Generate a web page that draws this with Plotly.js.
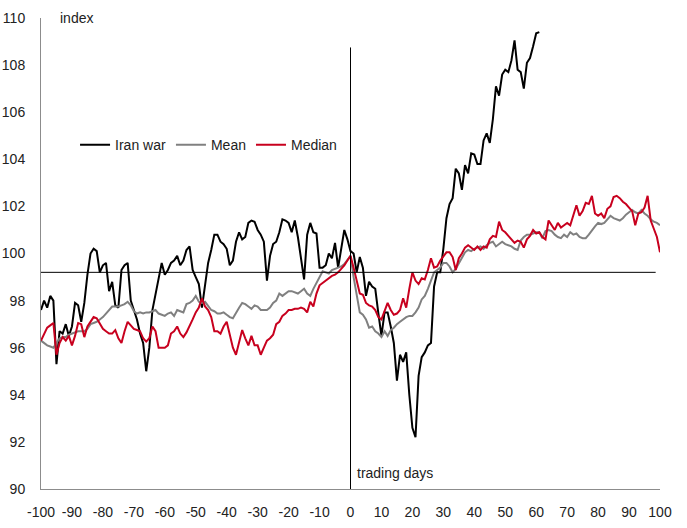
<!DOCTYPE html>
<html>
<head>
<meta charset="utf-8">
<script src="https://cdn.plot.ly/plotly-3.0.1.min.js"></script>
<style>
  html, body { margin: 0; padding: 0; background: #fff; }
  #myDiv { width: 687px; height: 528px; }
</style>
</head>
<body>
<div id="myDiv"></div>
<script>
// trading days relative to the event, -100 .. 100
var days = [];
for (var d = -100; d <= 100; d++) days.push(d);

// Iran war path, days -100 .. 61
var iranWar = [
  97.6, 98.0, 97.7, 98.2, 98.0, 95.3, 96.7, 96.6, 97.0, 96.5,
  96.9, 97.9, 97.8, 97.1, 97.9, 99.1, 100.0, 100.2, 100.1, 99.2,
  99.5, 99.6, 98.4, 98.8, 97.8, 97.7, 99.3, 99.5, 99.6, 98.0,
  97.6, 97.2, 96.6, 96.2, 95.0, 96.0, 97.6, 98.3, 99.0, 99.6,
  99.1, 99.3, 99.6, 99.7, 99.9, 99.5, 99.7, 100.15, 100.3, 99.3,
  99.0, 98.7, 97.7, 98.7, 99.6, 100.15, 100.8, 100.8, 100.5, 100.4,
  100.2, 99.5, 99.7, 100.5, 100.9, 100.6, 100.7, 101.3, 101.4, 101.35,
  101.0, 100.8, 100.5, 98.85, 99.9, 100.4, 100.5, 100.9, 101.45, 101.4,
  101.3, 100.9, 101.4, 100.7, 99.9, 98.9, 100.8, 101.3, 100.9, 100.85,
  99.4, 99.4, 99.5, 100.0, 99.8, 100.45, 99.4, 100.2, 101.0, 100.6,
  100.1, 100.0, 99.2, 99.85, 99.4, 98.2, 98.8, 98.6, 98.5, 97.46,
  96.5, 97.5, 97.5, 96.9, 96.2, 94.6, 95.7, 95.4, 95.8, 94.0,
  92.6, 92.2, 94.8, 95.6, 95.8, 96.1, 96.2, 98.6, 99.2, 99.2,
  100.2, 101.5, 102.1, 102.35, 103.6, 103.4, 102.7, 103.75, 103.4, 104.25,
  104.2, 103.8, 103.8, 104.8, 105.1, 104.7, 105.7, 107.1, 106.7, 107.6,
  107.8, 107.7, 108.2, 109.05, 107.8, 107.7, 107.0, 108.1, 108.3, 108.8,
  109.35, 109.4
];

var meanPath = [
  96.3, 96.2, 96.1, 96.05, 96.0, 96.2, 96.4, 96.45, 96.45, 96.55,
  96.6, 96.65, 96.7, 96.7, 96.7, 96.8, 97.0, 97.05, 97.1, 97.2,
  97.3, 97.45, 97.6, 97.75, 97.75, 97.75, 97.8, 97.85, 97.95, 97.8,
  97.55, 97.45, 97.5, 97.45, 97.5, 97.5, 97.55, 97.6, 97.45, 97.4,
  97.35, 97.45, 97.5, 97.35, 97.6, 97.55, 97.5, 97.85, 97.9, 98.0,
  98.2, 97.95, 97.9, 97.95, 97.75, 97.6, 97.55, 97.45, 97.45, 97.5,
  97.4, 97.3, 97.25, 97.5, 97.7, 97.9, 97.85, 97.75, 97.65, 97.8,
  97.75, 97.6, 97.6, 97.6, 97.7, 97.9, 98.0, 98.3, 98.2, 98.3,
  98.4, 98.4, 98.35, 98.3, 98.4, 98.5, 98.3, 98.2, 98.5, 98.75,
  98.95, 99.25, 99.2, 99.15, 99.3, 99.35, 99.4, 99.45, 99.55, 99.75,
  99.9, 99.0, 98.2, 97.5, 97.4, 97.2, 96.85, 96.9, 96.7, 96.6,
  96.45, 96.7, 96.5, 96.75, 96.85, 97.0, 97.1, 97.2, 97.3, 97.35,
  97.35, 97.5, 97.7, 98.05, 98.2, 98.5, 98.85, 99.2, 99.3, 99.4,
  99.6, 99.6, 99.45, 99.2, 99.35, 99.6, 99.85, 100.05, 100.15, 100.1,
  100.2, 100.25, 100.3, 100.2, 100.35, 100.45, 100.5, 100.3, 100.4, 100.5,
  100.4, 100.35, 100.3, 100.2, 100.15, 100.55, 100.7, 100.8, 100.8, 100.85,
  100.9, 100.9, 100.65, 100.95, 101.0, 100.95, 100.8, 100.7, 100.65, 100.8,
  100.7, 100.9, 100.8, 100.85, 100.7, 100.65, 100.65, 100.8, 101.0, 101.15,
  101.3, 101.25, 101.3, 101.45, 101.6, 101.5, 101.45, 101.4, 101.5, 101.65,
  101.75, 101.85, 101.75, 101.7, 101.85, 101.7, 101.6, 101.45, 101.35, 101.3,
  101.2
];

var medianPath = [
  96.3, 96.6, 96.85, 96.95, 97.05, 95.7, 96.2, 96.45, 96.3, 96.5,
  96.1, 96.5, 97.05, 97.0, 96.45, 96.9, 97.1, 97.3, 97.25, 97.0,
  96.8, 96.7, 96.6, 96.6, 96.75, 96.4, 96.2, 96.7, 97.1, 96.95,
  96.8, 96.75, 96.7, 96.4, 96.26, 96.4, 96.9, 96.7, 96.0, 96.0,
  96.0, 96.1, 96.6, 96.7, 96.9, 96.6, 96.45, 96.65, 96.9, 97.2,
  97.5, 97.7, 98.1, 97.75, 97.6, 97.3, 96.7, 96.7, 96.6, 96.9,
  97.1, 96.5, 96.0, 95.7, 96.2, 96.75, 96.4, 96.1, 96.5, 96.1,
  96.1, 95.7, 96.0, 96.3, 96.4, 96.55, 97.0, 97.1, 97.35, 97.45,
  97.6, 97.6, 97.65, 97.65, 97.7, 97.65, 97.5, 97.95, 97.75, 98.3,
  98.65, 98.75, 98.85, 98.95, 99.05, 99.1, 99.2, 99.35, 99.5, 99.7,
  99.9, 99.4, 98.9, 98.3, 98.25, 97.9, 97.8, 97.75, 97.6, 97.3,
  97.2, 97.6, 97.9, 97.6, 97.4, 97.45, 97.6, 98.1, 97.7, 98.5,
  99.2, 98.85, 98.7, 98.95, 98.9, 99.3, 99.8, 99.4, 99.45, 99.7,
  99.9, 100.05, 100.05, 99.85, 99.3, 99.8, 100.0, 100.25, 100.35, 100.25,
  100.15, 100.3, 100.15, 100.3, 100.25, 100.6, 100.75, 100.7, 101.35, 101.0,
  100.9, 100.75, 100.6, 100.45, 100.55, 100.5, 100.25, 100.6, 100.75, 101.0,
  100.85, 100.9, 100.7, 100.6, 101.4, 101.2, 101.0, 101.3, 101.1, 101.2,
  101.3, 101.2, 101.6, 102.05, 101.6, 101.8, 102.15, 102.1, 102.45, 101.7,
  101.6, 101.7, 101.5, 101.9, 102.0, 102.4, 102.45, 102.35, 102.2, 102.1,
  101.95, 101.8, 101.2, 101.7, 101.75, 101.95, 102.45, 101.4, 101.05, 100.7,
  100.05
];

var baseLevel = 99.2;   // horizontal reference line
var xTicks = [-100, -90, -80, -70, -60, -50, -40, -30, -20, -10, 0, 10, 20, 30, 40, 50, 60, 70, 80, 90, 100];
var yTicks = [90, 92, 94, 96, 98, 100, 102, 104, 106, 108, 110];

var font = "'Liberation Sans Narrow', 'Arial Narrow', 'Liberation Sans', Arial, sans-serif";

var traces = [
  {
    type: 'scatter', mode: 'lines', name: 'Iran war',
    x: days.slice(0, iranWar.length), y: iranWar,
    line: {color: '#000000', width: 2}
  },
  {
    type: 'scatter', mode: 'lines', name: 'Mean',
    x: days, y: meanPath,
    line: {color: '#808080', width: 2}
  },
  {
    type: 'scatter', mode: 'lines', name: 'Median',
    x: days, y: medianPath,
    line: {color: '#c8001e', width: 2}
  }
];

var layout = {
  width: 687,
  height: 528,
  margin: {l: 41, r: 27, t: 18, b: 39},
  paper_bgcolor: '#ffffff',
  plot_bgcolor: '#ffffff',
  font: {family: font, size: 14, color: '#222222'},
  showlegend: true,
  legend: {
    orientation: 'h',
    x: 0.055, y: 0.73,
    xanchor: 'left', yanchor: 'middle',
    bgcolor: 'rgba(0,0,0,0)',
    font: {family: font, size: 14, color: '#222222'},
    itemwidth: 30,
    tracegroupgap: 0
  },
  xaxis: {
    range: [-100, 100],
    tickvals: xTicks,
    ticktext: xTicks.map(String),
    showgrid: false,
    zeroline: false,
    showline: true,
    linecolor: '#8c8c8c',
    linewidth: 1,
    ticks: '',
    ticklen: 0,
    ticklabelstandoff: 10,
    tickfont: {family: font, size: 14, color: '#222222'}
  },
  yaxis: {
    range: [90, 110],
    tickvals: yTicks,
    showgrid: false,
    zeroline: false,
    showline: true,
    linecolor: '#8c8c8c',
    linewidth: 1,
    ticks: '',
    ticklen: 0,
    ticklabelstandoff: 12,
    tickfont: {family: font, size: 14, color: '#222222'}
  },
  shapes: [
    {
      type: 'line', xref: 'paper', yref: 'y',
      x0: 0, x1: 0.993, y0: baseLevel, y1: baseLevel,
      line: {color: '#000000', width: 1}
    },
    {
      type: 'line', xref: 'x', yref: 'y',
      x0: 0, x1: 0, y0: 90, y1: 108.75,
      line: {color: '#000000', width: 1}
    }
  ],
  annotations: [
    {
      text: 'index', xref: 'paper', yref: 'paper',
      x: 0.027, y: 1.0, xanchor: 'left', yanchor: 'middle',
      showarrow: false, font: {family: font, size: 14, color: '#222222'}
    },
    {
      text: 'trading days', xref: 'x', yref: 'y',
      x: 1.5, y: 90.7, xanchor: 'left', yanchor: 'middle',
      showarrow: false, font: {family: font, size: 14, color: '#222222'}
    }
  ]
};

Plotly.newPlot('myDiv', traces, layout, {displayModeBar: false, staticPlot: true});
</script>
</body>
</html>
